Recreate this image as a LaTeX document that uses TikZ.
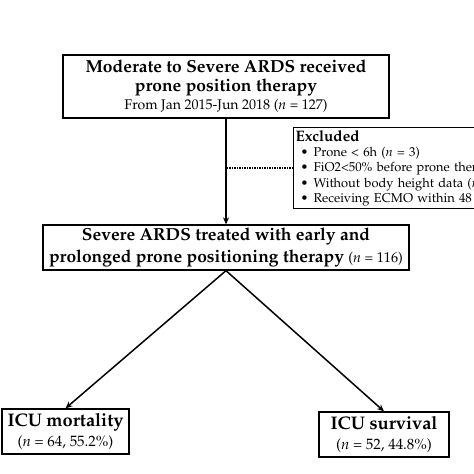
\documentclass[tikz,border=0pt]{standalone}
\usepackage[T1]{fontenc}
\usepackage{mathpazo}
\usetikzlibrary{arrows.meta}

\tikzset{
  box/.style={draw=black, line width=1.3pt, fill=white, align=center, inner sep=0pt},
  link/.style={line width=1.5pt, -{Stealth[length=7pt,width=6pt]}},
}

\begin{document}
\begin{tikzpicture}[x=1bp, y=-1bp]
\useasboundingbox (0,0) rectangle (474,474);

\node[box, minimum width=326bp, minimum height=63bp,
      font=\fontsize{17.5}{18.5}\selectfont\bfseries] (top) at (226,86.5)
  {Moderate to Severe ARDS received\\
   prone position therapy\\
   {\fontsize{14.1}{16}\selectfont\mdseries From Jan 2015-Jun 2018 (\textit{n} = 127)}};

\node[box, minimum width=366bp, minimum height=45bp,
      font=\fontsize{17.5}{22.5}\selectfont\bfseries] (severe) at (226,247.5)
  {Severe ARDS treated with early and\\
   prolonged prone positioning therapy
   {\fontsize{14.3}{16}\selectfont\mdseries (\textit{n} = 116)}};

\node[box, anchor=north west, align=left, text width=240bp, minimum height=81bp,
      inner xsep=2bp, font=\fontsize{12.9}{15.3}\selectfont] (excl) at (293,127)
  {{\fontsize{15.2}{15.3}\selectfont\bfseries Excluded}\\
   \hspace*{5bp}\makebox[13bp][l]{\textbullet}Prone < 6h (\textit{n} = 3)\\
   \hspace*{5bp}\makebox[13bp][l]{\textbullet}FiO2<50\% before prone ther\\
   \hspace*{5bp}\makebox[13bp][l]{\textbullet}Without body height data (\textit{n}\\
   \hspace*{5bp}\makebox[13bp][l]{\textbullet}Receiving ECMO within 48};

\node[box, minimum width=127bp, minimum height=45bp,
      font=\fontsize{18.3}{20}\selectfont\bfseries] (mort) at (65.5,431.5)
  {ICU mortality\\
   {\fontsize{15}{20}\selectfont\mdseries (\textit{n} = 64, 55.2\%)}};

\node[box, minimum width=130bp, minimum height=45bp,
      font=\fontsize{18.3}{20}\selectfont\bfseries] (surv) at (384,434.5)
  {ICU survival\\
   {\fontsize{15}{20}\selectfont\mdseries (\textit{n} = 52, 44.8\%)}};

\draw[link] (top) -- (severe);
\draw[line width=1.5pt, densely dotted] (excl.west) -- (excl.west -| top.south);
\draw[link] (severe.south) -- (mort.north);
\draw[link] (severe.south) -- (surv.north);
\end{tikzpicture}
\end{document}
